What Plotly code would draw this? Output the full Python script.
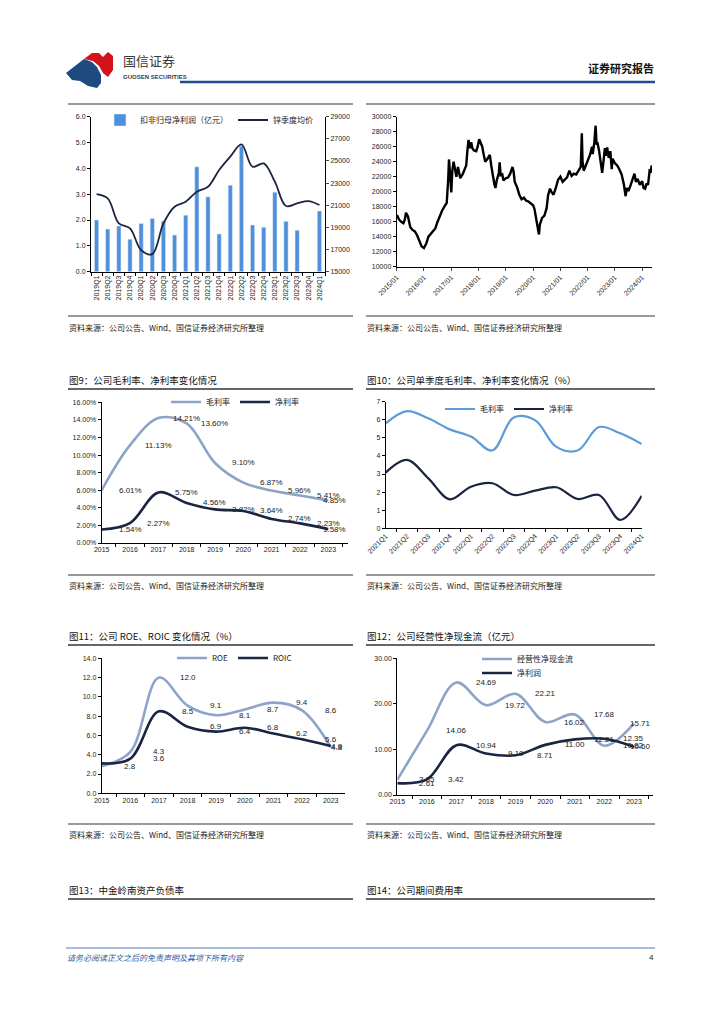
import plotly.graph_objects as go

# Browser body margin is 8px: figure is drawn 8px in from the page corner,
# so page-pixel coordinates are mapped into a 708x1008 figure.
OFF = 8
W, H = 708, 1008
def PX(x): return (x - OFF) / W
def PY(y): return 1 - (y - OFF) / H

NUM = "Liberation Sans, Arial, Noto Sans CJK SC, sans-serif"
CJK = "Noto Sans CJK SC, Liberation Sans, sans-serif"

# ---------------- data ----------------
q_labels_1 = ["2019Q1", "2019Q2", "2019Q3", "2019Q4", "2020Q1", "2020Q2", "2020Q3", "2020Q4",
              "2021Q1", "2021Q2", "2021Q3", "2021Q4", "2022Q1", "2022Q2", "2022Q3", "2022Q4",
              "2023Q1", "2023Q2", "2023Q3", "2023Q4", "2024Q1"]
profit_q = [2.0, 1.65, 1.77, 1.26, 1.87, 2.06, 1.96, 1.42, 2.19, 4.06, 2.9, 1.46, 3.35, 4.86,
            1.81, 1.72, 3.08, 1.95, 1.6, None, 2.35]
zinc_q = [22010, 21620, 19360, 18910, 16950, 16590, 19360, 20870, 21320, 22220, 22670, 24180,
          25390, 26500, 24480, 24780, 23130, 20930, 21170, 21380, 21020]

zinc_dates = ["2015-01-05", "2015-02-01", "2015-03-01", "2015-04-01", "2015-04-20", "2015-05-05",
              "2015-06-01", "2015-07-01", "2015-08-01", "2015-09-01", "2015-10-01", "2015-11-01",
              "2015-12-01", "2016-01-01", "2016-01-20", "2016-02-01", "2016-03-01", "2016-04-01",
              "2016-05-01", "2016-06-01", "2016-07-01", "2016-08-01", "2016-09-01", "2016-10-01",
              "2016-11-01", "2016-11-20", "2016-12-01", "2016-12-15", "2017-01-01", "2017-01-15",
              "2017-02-01", "2017-02-20", "2017-03-10", "2017-04-01", "2017-05-01", "2017-06-01",
              "2017-07-01", "2017-07-20", "2017-08-05", "2017-08-20", "2017-09-05", "2017-09-25",
              "2017-10-10", "2017-11-01", "2017-12-01", "2017-12-20", "2018-01-10", "2018-02-01",
              "2018-02-20", "2018-03-10", "2018-04-01", "2018-05-01", "2018-06-01", "2018-06-20",
              "2018-07-10", "2018-08-01", "2018-08-15", "2018-09-01", "2018-10-01", "2018-10-10",
              "2018-10-25", "2018-11-15", "2018-12-01", "2019-01-01", "2019-02-01", "2019-03-01",
              "2019-04-01", "2019-04-15", "2019-05-01", "2019-06-01", "2019-07-01", "2019-08-01",
              "2019-09-01", "2019-10-01", "2019-11-01", "2019-12-01", "2020-01-01", "2020-01-20",
              "2020-02-05", "2020-03-01", "2020-03-20", "2020-04-01", "2020-05-01", "2020-06-01",
              "2020-07-01", "2020-07-20", "2020-08-15", "2020-09-01", "2020-10-01", "2020-11-01",
              "2020-12-01", "2021-01-01", "2021-02-01", "2021-03-01", "2021-04-01", "2021-05-01",
              "2021-06-01", "2021-07-01", "2021-08-01", "2021-09-01", "2021-10-01", "2021-10-15",
              "2021-10-25", "2021-11-10", "2021-12-01", "2022-01-01", "2022-02-01", "2022-03-01",
              "2022-03-10", "2022-04-01", "2022-04-18", "2022-05-01", "2022-05-15", "2022-06-01",
              "2022-07-01", "2022-07-15", "2022-08-01", "2022-08-20", "2022-09-01", "2022-09-20",
              "2022-10-10", "2022-11-01", "2022-11-20", "2022-12-01", "2023-01-01", "2023-02-01",
              "2023-03-01", "2023-04-01", "2023-05-01", "2023-05-25", "2023-06-10", "2023-07-01",
              "2023-08-01", "2023-09-01", "2023-09-20", "2023-10-10", "2023-11-01", "2023-12-01",
              "2024-01-01", "2024-01-20", "2024-02-10", "2024-03-01", "2024-03-20", "2024-04-10",
              "2024-04-25", "2024-05-08"]
zinc_price = [16900, 16300, 16000, 15800, 16300, 17200,
              16700, 15300, 14900, 14700, 14200, 13500,
              12700, 12500, 12800, 13100, 14000, 14400,
              14700, 15100, 16000, 16900, 17500, 18000,
              18500, 21500, 24300, 22500, 19900, 22800,
              24000, 23000, 22000, 23300, 21800, 22300,
              23000, 23500, 25500, 26900, 25800, 26600,
              25800, 25500, 25400, 26000, 27000, 26400,
              26000, 25000, 24000, 24400, 24900, 23500,
              22000, 21000, 20500, 21500, 22500, 23900,
              22200, 22300, 21500, 21800, 21900, 22400,
              23300, 22700, 21300, 20600, 19600, 19000,
              19200, 18800, 18700, 18400, 18200, 17700,
              16800, 15900, 14300, 15600, 16500, 16800,
              17800, 19500, 20400, 20000, 19600, 20500,
              21600, 22000, 21300, 21600, 21900, 22800,
              22100, 22400, 22300, 22800, 23300, 27800,
              24000, 22800, 23400, 24000, 24900, 26000,
              25000, 26600, 28800, 26300, 26400, 25600,
              23500, 22500, 24000, 25800, 24800, 25900,
              24500, 25400, 23000, 24400, 23800, 23500,
              23000, 22300, 21000, 19400, 20500, 20100,
              20900, 21800, 22400, 21300, 21700, 20900,
              21400, 20500, 20400, 21100, 20900, 22800,
              22700, 23500]
zinc_ticks = ["2015-01-01", "2016-01-01", "2017-01-01", "2018-01-01", "2019-01-01",
              "2020-01-01", "2021-01-01", "2022-01-01", "2023-01-01", "2024-01-01"]

years = ["2015", "2016", "2017", "2018", "2019", "2020", "2021", "2022", "2023"]
gross_margin = [6.01, 11.13, 14.21, 13.60, 9.10, 6.87, 5.96, 5.41, 4.85]
net_margin = [1.54, 2.27, 5.75, 4.56, 3.82, 3.64, 2.74, 2.23, 1.58]

q_labels_10 = ["2021Q1", "2021Q2", "2021Q3", "2021Q4", "2022Q1", "2022Q2", "2022Q3", "2022Q4",
               "2023Q1", "2023Q2", "2023Q3", "2023Q4", "2024Q1"]
gross_q = [5.8, 6.48, 6.08, 5.47, 5.07, 4.3, 6.13, 5.98, 4.5, 4.3, 5.6, 5.25, 4.66]
net_q = [3.08, 3.78, 2.76, 1.6, 2.3, 2.49, 1.84, 2.08, 2.27, 1.62, 1.84, 0.46, 1.79]

roe = [2.8, 4.3, 12.0, 9.1, 8.1, 8.7, 9.4, 8.6, 4.8]
roic = [3.1, 3.6, 8.5, 6.9, 6.4, 6.8, 6.2, 5.6, 4.9]

op_cash = [3.35, 14.06, 24.69, 19.72, 22.21, 16.02, 17.68, 10.82, 15.71]
net_profit = [2.61, 3.42, 10.94, 9.10, 8.71, 11.00, 12.21, 12.35, 10.60]

# ---------------- colours ----------------
BAR_BLUE = "#4f8fdb"
NAVY = "#1b2542"
STEEL = "#8da4c9"
MID_BLUE = "#5b9bd8"

fig = go.Figure()

# chart 1
fig.add_trace(go.Bar(x=q_labels_1, y=profit_q, name="扣非归母净利润（亿元）", marker_color=BAR_BLUE,
                     width=0.38, xaxis="x", yaxis="y", legend="legend"))
fig.add_trace(go.Scatter(x=q_labels_1, y=zinc_q, name="锌季度均价", mode="lines",
                         line=dict(color=NAVY, width=1.8, shape="spline", smoothing=1.0),
                         xaxis="x", yaxis="y2", legend="legend"))
# chart 2
fig.add_trace(go.Scatter(x=zinc_dates, y=zinc_price, mode="lines", showlegend=False,
                         line=dict(color="#000000", width=2.4), xaxis="x2", yaxis="y3"))
# fig 9
fig.add_trace(go.Scatter(x=years, y=gross_margin, name="毛利率", mode="lines",
                         line=dict(color=STEEL, width=2.6, shape="spline", smoothing=1.0),
                         xaxis="x3", yaxis="y4", legend="legend2"))
fig.add_trace(go.Scatter(x=years, y=net_margin, name="净利率", mode="lines",
                         line=dict(color=NAVY, width=2.6, shape="spline", smoothing=1.0),
                         xaxis="x3", yaxis="y4", legend="legend2"))
# fig 10
fig.add_trace(go.Scatter(x=q_labels_10, y=gross_q, name="毛利率", mode="lines",
                         line=dict(color=MID_BLUE, width=2.2, shape="spline", smoothing=1.0),
                         xaxis="x4", yaxis="y5", legend="legend3"))
fig.add_trace(go.Scatter(x=q_labels_10, y=net_q, name="净利率", mode="lines",
                         line=dict(color=NAVY, width=2.2, shape="spline", smoothing=1.0),
                         xaxis="x4", yaxis="y5", legend="legend3"))
# fig 11
fig.add_trace(go.Scatter(x=years, y=roe, name="ROE", mode="lines",
                         line=dict(color=STEEL, width=2.6, shape="spline", smoothing=1.0),
                         xaxis="x5", yaxis="y6", legend="legend4"))
fig.add_trace(go.Scatter(x=years, y=roic, name="ROIC", mode="lines",
                         line=dict(color=NAVY, width=2.6, shape="spline", smoothing=1.0),
                         xaxis="x5", yaxis="y6", legend="legend4"))
# fig 12
fig.add_trace(go.Scatter(x=years, y=op_cash, name="经营性净现金流", mode="lines",
                         line=dict(color=STEEL, width=2.6, shape="spline", smoothing=1.0),
                         xaxis="x6", yaxis="y7", legend="legend5"))
fig.add_trace(go.Scatter(x=years, y=net_profit, name="净利润", mode="lines",
                         line=dict(color=NAVY, width=2.6, shape="spline", smoothing=1.0),
                         xaxis="x6", yaxis="y7", legend="legend6"))

# ---------------- axes ----------------
TF = dict(family=NUM, size=7, color="#222")

def xcat(l, r, anchor, angle=0):
    return dict(domain=[PX(l), PX(r)], anchor=anchor, type="category", showline=True,
                linecolor="#000", linewidth=1, ticks="outside", ticklen=3, tickcolor="#000",
                tickson="boundaries", showgrid=False, zeroline=False, tickangle=angle,
                tickfont=TF, fixedrange=True, automargin=False)

def yax(top, bottom, anchor, rng, dtick, fmt, suffix=""):
    return dict(domain=[PY(bottom), PY(top)], anchor=anchor, range=rng, dtick=dtick,
                tickformat=fmt, ticksuffix=suffix, showline=True, linecolor="#000", linewidth=1,
                ticks="outside", ticklen=3, tickcolor="#000", showgrid=False, zeroline=False,
                tickfont=TF, fixedrange=True, automargin=False)

layout = dict(
    width=W, height=H, margin=dict(l=0, r=0, t=0, b=0, pad=0, autoexpand=False),
    paper_bgcolor="white", plot_bgcolor="white",
    font=dict(family=CJK, size=8, color="#222"),
    xaxis=xcat(91, 325, "y", -90),
    yaxis=yax(116.7, 271.7, "x", [0, 6], 1, ".1f"),
    yaxis2=dict(overlaying="y", side="right", anchor="x", range=[15000, 29000],
                tickvals=list(range(15000, 29001, 2000)), tickformat="d", showline=True,
                linecolor="#000", ticks="outside", ticklen=3, showgrid=False, zeroline=False,
                tickfont=TF, fixedrange=True, automargin=False),
    xaxis2=dict(domain=[PX(396.7), PX(652)], anchor="y3", type="date",
                range=["2015-01-01", "2024-05-12"], tickvals=zinc_ticks, tickformat="%Y/%m",
                tickangle=-45, showline=True, linecolor="#000", ticks="outside", ticklen=3,
                showgrid=False, zeroline=False, tickfont=TF, fixedrange=True, automargin=False),
    yaxis3=yax(116.7, 266.7, "x2", [10000, 30000], 2000, "d"),
    xaxis3=xcat(101.7, 348, "y4"),
    yaxis4=yax(402.3, 543, "x3", [0, 16], 2, ".2f", "%"),
    xaxis4=xcat(385.7, 641.7, "y5", -45),
    yaxis5=yax(401.7, 528.3, "x4", [0, 7], 1, "d"),
    xaxis5=xcat(101.7, 345, "y6"),
    yaxis6=yax(658.3, 793.3, "x5", [0, 14], 2, ".1f"),
    xaxis6=xcat(397.3, 653, "y7"),
    yaxis7=yax(658.3, 795, "x6", [0, 30], 10, ".2f"),
)

LEG = dict(orientation="h", xanchor="left", yanchor="middle", bgcolor="rgba(0,0,0,0)",
           font=dict(family=CJK, size=8, color="#222"), itemwidth=30, traceorder="normal")
layout["legend"] = dict(LEG, x=PX(100), y=PY(120))
layout["legend2"] = dict(LEG, x=PX(166), y=PY(402))
layout["legend3"] = dict(LEG, x=PX(440), y=PY(409))
layout["legend4"] = dict(LEG, x=PX(172), y=PY(658))
layout["legend5"] = dict(LEG, x=PX(477), y=PY(659))
layout["legend6"] = dict(LEG, x=PX(477), y=PY(673))

fig.update_layout(**layout)

# ---------------- data labels (shifted one category right, as in source) ----------------
ann = []
LF = dict(family=NUM, size=8, color="#222")

def add_labels(vals, xref, yref, fmt, suffix="", skip=()):
    n = len(vals)
    for i, v in enumerate(vals):
        if i in skip:
            continue
        xpos = i + 1 if i < n - 1 else n - 1 + 0.22
        ann.append(dict(x=xpos, y=v, xref=xref, yref=yref, text=fmt.format(v) + suffix,
                        showarrow=False, font=LF, xanchor="center", yanchor="middle"))

add_labels(gross_margin, "x3", "y4", "{:.2f}", "%")
add_labels(net_margin, "x3", "y4", "{:.2f}", "%")
add_labels(roe, "x5", "y6", "{:.1f}")
add_labels(roic, "x5", "y6", "{:.1f}", skip=(0,))
add_labels(op_cash, "x6", "y7", "{:.2f}")
add_labels(net_profit, "x6", "y7", "{:.2f}")

# ---------------- page text ----------------
def txt(x, y, s, size=8, color="#222", anchor="left", bold=False, italic=False, family=CJK):
    if bold:
        s = "<b>" + s + "</b>"
    if italic:
        s = "<i>" + s + "</i>"
    ann.append(dict(x=PX(x), y=PY(y), xref="paper", yref="paper", text=s, showarrow=False,
                    xanchor=anchor, yanchor="middle", font=dict(family=family, size=size, color=color)))

txt(121, 60, "国信证券", size=13, color="#3a3a3a")
txt(121, 77, "GUOSEN SECURITIES", size=6, color="#3a3a3a", bold=True, family=NUM)
txt(656, 68, "证券研究报告", size=11, color="#111", anchor="right", bold=True)

src = "资料来源：公司公告、Wind、国信证券经济研究所整理"
for yy in (327, 585, 834):
    txt(67, yy, src)
    txt(365, yy, src)

txt(67, 380, "图9：公司毛利率、净利率变化情况", size=9.5, color="#111")
txt(365, 380, "图10：公司单季度毛利率、净利率变化情况（%）", size=9.5, color="#111")
txt(67, 636, "图11：公司 ROE、ROIC 变化情况（%）", size=9.5, color="#111")
txt(365, 636, "图12：公司经营性净现金流（亿元）", size=9.5, color="#111")
txt(67, 890, "图13：中金岭南资产负债率", size=9.5, color="#111")
txt(365, 890, "图14：公司期间费用率", size=9.5, color="#111")

txt(65, 957, "请务必阅读正文之后的免责声明及其项下所有内容", size=8, color="#2b5aa3", italic=True)
txt(656, 957, "4", size=8, color="#222", anchor="right", family=NUM)

fig.update_layout(annotations=ann)

# ---------------- page rules & logo ----------------
shapes = []
def hline(x0, x1, y, color, width):
    shapes.append(dict(type="line", xref="paper", yref="paper", x0=PX(x0), x1=PX(x1),
                       y0=PY(y), y1=PY(y), line=dict(color=color, width=width)))

hline(180, 655, 82, "#1f4f8b", 2.5)
for y in (104, 316, 575, 824):
    hline(68, 353, y, "#9a9a9a", 1.8)
    hline(366, 655, y, "#9a9a9a", 1.8)
for y in (389, 645, 899):
    hline(68, 353, y, "#333333", 1.6)
    hline(366, 655, y, "#333333", 1.6)
hline(66, 655, 948, "#4f7fb8", 1.2)

def poly(pts, color):
    path = "M " + " L ".join(f"{PX(x):.5f},{PY(y):.5f}" for x, y in pts) + " Z"
    shapes.append(dict(type="path", xref="paper", yref="paper", path=path,
                       fillcolor=color, line=dict(width=0)))

poly([(66, 73), (84, 59), (92, 62), (97, 67), (101, 75), (101, 83), (97, 88), (88, 86),
      (80, 81), (72, 80)], "#1d4a7f")
poly([(84, 59), (92, 53), (99, 53), (103, 57), (108, 52), (113, 56), (113, 70), (108, 77),
      (103, 73), (99, 66), (93, 61)], "#d3121c")

fig.update_layout(shapes=shapes)

fig.write_html("out.html", config={"displayModeBar": False})
